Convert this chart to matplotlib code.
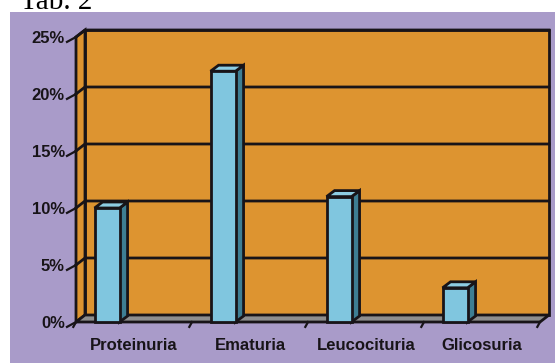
import matplotlib
matplotlib.use("Agg")
import matplotlib.pyplot as plt
from matplotlib.patches import Polygon, Rectangle

# Data
categories = ["Proteinuria", "Ematuria", "Leucocituria", "Glicosuria"]
values = [10, 22, 11, 3]            # percent
y_ticks = [0, 5, 10, 15, 20, 25]
y_tick_labels = ["0%", "5%", "10%", "15%", "20%", "25%"]

# Colours
purple = "#A99BC9"
orange = "#DD9430"
floor_col = "#8E8E8E"
bar_front = "#80C6DF"
bar_side = "#3E7E93"
bar_top = "#8DCDE3"
ink = "#181418"

W, H = 555, 363
fig = plt.figure(figsize=(W / 100, H / 100), dpi=100)
fig.patch.set_facecolor("white")

# purple panel behind the chart
fig.patches.append(Rectangle((10 / W, 0), 1 - 10 / W, (H - 12) / H,
                             transform=fig.transFigure, facecolor=purple,
                             edgecolor="none", zorder=-1))
fig.text(20 / W, 1 - 9 / H, "Tab. 2", family="Liberation Serif",
         fontsize=21, va="baseline", ha="left")

# front plane layout in pixels: x=0 at 76px, 116px per category,
# y=0 at 322px from top, 11.4px per percent
x0_px, cat_px = 76, 116
y0_px, pct_px = 322, 11.4
ax = fig.add_axes([0, 0, 1, 1])
ax.set_xlim(-x0_px / cat_px, (W - x0_px) / cat_px)
ax.set_ylim(-(H - y0_px) / pct_px, y0_px / pct_px)
ax.axis("off")
ax.patch.set_alpha(0)
ax.set_zorder(1)

n = len(categories)
ymax = y_ticks[-1]
dx, dy = 9 / cat_px, 7 / pct_px          # wall depth
bdx, bdy = 8 / cat_px, 6 / pct_px        # bar depth
lw = 2.0

# back wall
ax.add_patch(Polygon([(dx, dy), (n + dx, dy), (n + dx, ymax + dy), (dx, ymax + dy)],
                     closed=True, facecolor=orange, edgecolor=ink, lw=lw, zorder=1))
# left wall
ax.add_patch(Polygon([(0, 0), (dx, dy), (dx, ymax + dy), (0, ymax)],
                     closed=True, facecolor=orange, edgecolor=ink, lw=lw, zorder=1))
# floor
ax.add_patch(Polygon([(0, 0), (n, 0), (n + dx, dy), (dx, dy)],
                     closed=True, facecolor=floor_col, edgecolor=ink, lw=lw, zorder=2))

# gridlines on the walls + y tick labels
for t, lab in zip(y_ticks, y_tick_labels):
    if t > 0:
        ax.plot([0, dx, n + dx], [t, t + dy, t + dy], color=ink, lw=lw, zorder=1.5)
    ax.plot([0, -dx], [t, t - 0.7 * dy], color=ink, lw=1.6, zorder=3)
    ax.text(-11 / cat_px, t - 0.1, lab, ha="right", va="center", fontsize=12,
            fontweight="bold", family="Liberation Sans", color=ink)

# category ticks and labels on the floor front edge
for i in range(n + 1):
    ax.plot([i, i - 0.3 * dx], [0, -0.7 * dy], color=ink, lw=1.6, zorder=3)
for i, cat in enumerate(categories):
    ax.text(i + 0.5, -23 / pct_px, cat, ha="center", va="center", fontsize=12,
            fontweight="bold", family="Liberation Sans", color=ink)

# 3D bars
bar_off, bar_w = 0.16, 25 / cat_px
for i, v in enumerate(values):
    left = i + bar_off
    right = left + bar_w
    ax.add_patch(Polygon([(right, 0), (right + bdx, bdy), (right + bdx, v + bdy), (right, v)],
                         closed=True, facecolor=bar_side, edgecolor=ink, lw=lw, zorder=4))
    ax.add_patch(Polygon([(left, v), (left + bdx, v + bdy), (right + bdx, v + bdy), (right, v)],
                         closed=True, facecolor=bar_top, edgecolor=ink, lw=lw, zorder=4))
    ax.add_patch(Rectangle((left, 0), bar_w, v, facecolor=bar_front,
                           edgecolor=ink, lw=lw, zorder=5))

fig.savefig("out.png", dpi=100)
